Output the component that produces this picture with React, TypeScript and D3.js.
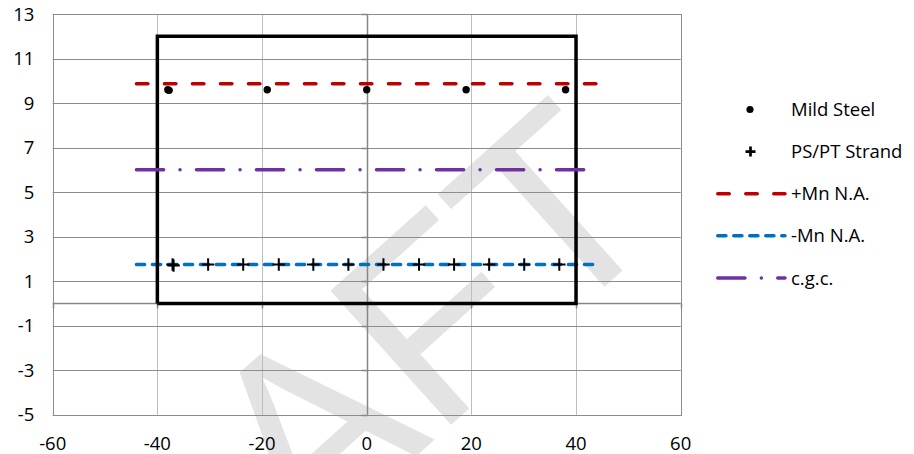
import React from "react";
import * as d3 from "d3";

const W = 914;
const H = 454;

const xTicks = [-60, -40, -20, 0, 20, 40, 60];
const yTicks = [-5, -3, -1, 1, 3, 5, 7, 9, 11, 13];

const sectionX = [-40, -40, 40, 40, -40];
const sectionY = [0, 12, 12, 0, 0];

const mildSteelX = [-38, -37.75, -19, 0, 19, 38];
const mildSteelY = [9.6, 9.57, 9.6, 9.6, 9.6, 9.6];

const strandX = [-37.1, -36.9, -30.3, -23.6, -16.8, -10.2, -3.5, 3.2, 10.0, 16.7, 23.4, 30.1, 36.8];
const strandY = [1.75, 1.7, 1.75, 1.75, 1.75, 1.75, 1.75, 1.75, 1.75, 1.75, 1.75, 1.75, 1.75];

const posMnX = [-44, 44];
const posMnY = [9.87, 9.87];
const negMnX = [-44, 44];
const negMnY = [1.75, 1.75];
const cgcX = [-44, 44];
const cgcY = [6.0, 6.0];

const legendLabels = ["Mild Steel", "PS/PT Strand", "+Mn N.A.", "-Mn N.A.", "c.g.c."];
const watermarkText = "DRAFT";

const RED = "#c00000";
const BLUE = "#0070c0";
const PURPLE = "#7030a0";
const FONT = "'Open Sans', sans-serif";

export default function App() {
  const x = d3.scaleLinear().domain([-60, 60]).range([52.7, 680.7]);
  const y = d3.scaleLinear().domain([-5, 13]).range([414.7, 14]);
  const px = (v: number) => Math.round(x(v)) + 0.5;
  const py = (v: number) => Math.round(y(v)) + 0.5;

  const line = d3
    .line<[number, number]>()
    .x((d) => x(d[0]))
    .y((d) => y(d[1]));
  const zip = (a: number[], b: number[]) => a.map((v, i) => [v, b[i]] as [number, number]);

  const left = x(-60);
  const right = x(60);
  const top = y(13);
  const bottom = y(-5);

  const legendRow = (i: number) => 109.5 + i * 42.1;
  const lx0 = 717.75;
  const lx1 = 785;
  const lmx = 750.5;

  const plus = (cx: number, cy: number, s: number) =>
    `M${cx - s / 2},${cy}H${cx + s / 2}M${cx},${cy - s / 2}V${cy + s / 2}`;

  return (
    <svg
      width={W}
      height={H}
      style={{ position: "absolute", left: 0, top: 0, display: "block", background: "#fff" }}
    >
      {/* watermark */}
      <g clipPath="url(#pageClip)">
        <text
          transform="translate(673,225) rotate(-42)"
          textAnchor="end"
          fontFamily="'Liberation Sans', Arial, sans-serif"
          fontSize={262}
          fill="#e3e3e3"
        >
          {watermarkText}
        </text>
      </g>
      <defs>
        <clipPath id="pageClip">
          <rect x={0} y={0} width={W} height={H} />
        </clipPath>
      </defs>

      {/* vertical gridlines */}
      {xTicks.map((t) => (
        <line key={"vx" + t} x1={px(t)} x2={px(t)} y1={top} y2={bottom} stroke="#bdbdbd" strokeWidth={1} />
      ))}
      {/* horizontal gridlines */}
      {yTicks.map((t) => (
        <line key={"hy" + t} x1={left} x2={right} y1={py(t)} y2={py(t)} stroke="#8c8c8c" strokeWidth={1} />
      ))}
      {/* border */}
      <rect x={px(-60)} y={py(13)} width={px(60) - px(-60)} height={py(-5) - py(13)} fill="none" stroke="#8c8c8c" strokeWidth={1} />
      {/* axes at 0 */}
      <line x1={left} x2={right} y1={py(0)} y2={py(0)} stroke="#868686" strokeWidth={1.5} />
      <line x1={px(0)} x2={px(0)} y1={top} y2={bottom} stroke="#868686" strokeWidth={1.5} />
      {xTicks.map((t) => (
        <line key={"tx" + t} x1={px(t)} x2={px(t)} y1={py(0)} y2={py(0) + 5} stroke="#868686" strokeWidth={1.5} />
      ))}
      {yTicks.map((t) => (
        <line key={"ty" + t} x1={px(0) - 6} x2={px(0)} y1={py(t)} y2={py(t)} stroke="#868686" strokeWidth={1.5} />
      ))}

      {/* -Mn N.A. */}
      <path d={line(zip(negMnX, negMnY)) || ""} fill="none" stroke={BLUE} strokeWidth={3.5} strokeLinecap="round" strokeDasharray="8.2 7.8" />

      {/* section outline */}
      <path d={line(zip(sectionX, sectionY)) || ""} fill="none" stroke="#000" strokeWidth={3.5} strokeLinejoin="miter" />

      {/* +Mn N.A. */}
      <path d={line(zip(posMnX, posMnY)) || ""} fill="none" stroke={RED} strokeWidth={3.5} strokeLinecap="round" strokeDasharray="11.5 16.5" />
      {/* c.g.c. */}
      <path d={line(zip(cgcX, cgcY)) || ""} fill="none" stroke={PURPLE} strokeWidth={3.5} strokeLinecap="round" strokeDasharray="27.2 16.4 0.01 16.4" />

      {/* mild steel */}
      {mildSteelX.map((v, i) => (
        <circle key={"ms" + i} cx={x(v)} cy={y(mildSteelY[i])} r={3.7} fill="#000" />
      ))}
      {/* strands */}
      {strandX.map((v, i) => (
        <path key={"st" + i} d={plus(x(v), y(strandY[i]), 12.5)} stroke="#000" strokeWidth={2} fill="none" />
      ))}

      {/* tick labels */}
      {yTicks.map((t) => (
        <text key={"yl" + t} x={34.3} y={y(t) + 6.7} textAnchor="end" fontFamily={FONT} fontSize={18.5} fill="#000">
          {t}
        </text>
      ))}
      {xTicks.map((t) => (
        <text key={"xl" + t} x={x(t)} y={450} textAnchor="middle" fontFamily={FONT} fontSize={18.5} fill="#000">
          {t}
        </text>
      ))}

      {/* legend */}
      <circle cx={lmx - 0.5} cy={legendRow(0)} r={3.6} fill="#000" />
      <path d={plus(lmx, legendRow(1), 10)} stroke="#000" strokeWidth={2.7} fill="none" />
      <line x1={lx0} x2={lx1} y1={legendRow(2)} y2={legendRow(2)} stroke={RED} strokeWidth={3.5} strokeLinecap="round" strokeDasharray="11.5 16.5" />
      <line x1={lx0} x2={lx1} y1={legendRow(3)} y2={legendRow(3)} stroke={BLUE} strokeWidth={3.5} strokeLinecap="round" strokeDasharray="8.2 7.8" />
      <line x1={lx0} x2={lx1} y1={legendRow(4)} y2={legendRow(4)} stroke={PURPLE} strokeWidth={3.5} strokeLinecap="round" strokeDasharray="27.2 16.4 0.01 16.4" />
      {legendLabels.map((l, i) => (
        <text key={"lg" + i} x={791} y={legendRow(i) + 6.6} fontFamily={FONT} fontSize={18.5} fill="#000">
          {l}
        </text>
      ))}
    </svg>
  );
}
